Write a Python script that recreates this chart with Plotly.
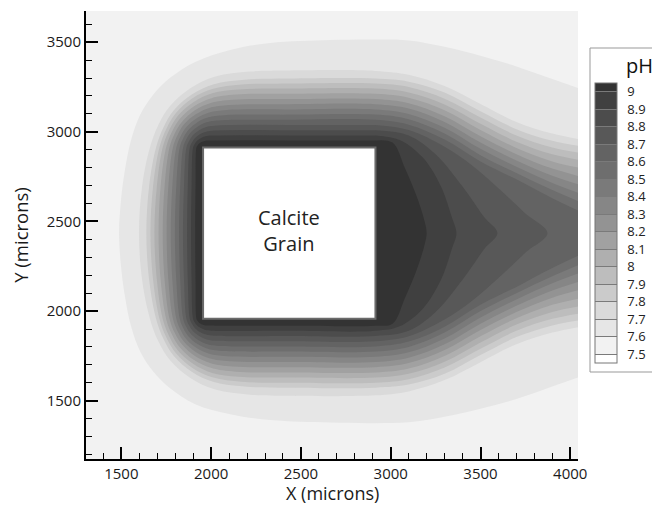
import plotly.graph_objects as go

# ---- pH contour lines: (x, y) in microns, one closed outline per level ----
ph_7_6 = [(4100, 3225), (3900, 3295), (3700, 3365), (3500, 3425), (3300, 3475), (3100, 3510), (2915, 3515),
          (2663, 3512), (2329, 3496), (2106, 3457), (1911, 3390), (1771, 3301), (1676, 3206), (1604, 3094),
          (1554, 2955), (1520, 2788), (1498, 2620), (1487, 2435), (1498, 2250), (1520, 2082), (1554, 1915),
          (1604, 1776), (1676, 1664), (1771, 1569), (1911, 1480), (2106, 1425), (2329, 1392), (2663, 1378),
          (2915, 1375), (3100, 1380), (3300, 1410), (3500, 1455), (3700, 1510), (3900, 1580), (4100, 1650)]
ph_7_7 = [(4100, 2950), (3900, 2990), (3700, 3055), (3500, 3155), (3300, 3255), (3100, 3318), (2915, 3340),
          (2435, 3342), (2216, 3336), (2023, 3308), (1884, 3243), (1771, 3144), (1705, 3037), (1659, 2912),
          (1616, 2700), (1598, 2435), (1616, 2170), (1659, 1958), (1705, 1833), (1771, 1726), (1884, 1627),
          (2023, 1562), (2216, 1534), (2435, 1528), (2915, 1530), (3100, 1552), (3300, 1615), (3500, 1715),
          (3700, 1815), (3900, 1880), (4100, 1920)]
ph_7_8 = [(4100, 2913), (3900, 2950), (3700, 3015), (3500, 3115), (3300, 3220), (3100, 3280), (2915, 3297),
          (2435, 3297), (2186, 3291), (2015, 3266), (1892, 3208), (1792, 3120), (1734, 3024), (1693, 2912),
          (1655, 2700), (1639, 2435), (1655, 2170), (1693, 1958), (1734, 1846), (1792, 1750), (1892, 1662),
          (2015, 1604), (2186, 1579), (2435, 1573), (2915, 1573), (3100, 1590), (3300, 1650), (3500, 1755),
          (3700, 1855), (3900, 1920), (4100, 1957)]
ph_7_9 = [(4100, 2875), (3900, 2913), (3700, 2980), (3500, 3080), (3300, 3185), (3100, 3250), (2915, 3269),
          (2435, 3269), (2169, 3264), (2011, 3240), (1896, 3187), (1804, 3105), (1750, 3016), (1712, 2912),
          (1677, 2700), (1662, 2435), (1677, 2170), (1712, 1958), (1750, 1854), (1804, 1765), (1896, 1683),
          (2011, 1630), (2169, 1606), (2435, 1601), (2915, 1601), (3100, 1620), (3300, 1685), (3500, 1790),
          (3700, 1890), (3900, 1957), (4100, 1995)]
ph_8_0 = [(4100, 2835), (3900, 2875), (3700, 2945), (3500, 3045), (3300, 3153), (3100, 3220), (2915, 3241),
          (2435, 3241), (2153, 3236), (2006, 3215), (1901, 3165), (1815, 3090), (1765, 3007), (1730, 2912),
          (1698, 2700), (1684, 2435), (1698, 2170), (1730, 1958), (1765, 1863), (1815, 1780), (1901, 1705),
          (2006, 1655), (2153, 1634), (2435, 1629), (2915, 1629), (3100, 1650), (3300, 1717), (3500, 1825),
          (3700, 1925), (3900, 1995), (4100, 2035)]
ph_8_1 = [(4100, 2790), (3900, 2835), (3700, 2910), (3500, 3010), (3300, 3120), (3100, 3190), (2915, 3212),
          (2435, 3212), (2136, 3208), (2002, 3188), (1905, 3143), (1827, 3074), (1781, 2999), (1749, 2912),
          (1719, 2700), (1707, 2435), (1719, 2170), (1749, 1958), (1781, 1871), (1827, 1796), (1905, 1727),
          (2002, 1682), (2136, 1662), (2435, 1658), (2915, 1658), (3100, 1680), (3300, 1750), (3500, 1860),
          (3700, 1960), (3900, 2035), (4100, 2080)]
ph_8_2 = [(4100, 2740), (3900, 2795), (3700, 2875), (3500, 2975), (3300, 3087), (3100, 3160), (2915, 3183),
          (2435, 3183), (2119, 3179), (1998, 3161), (1910, 3121), (1839, 3058), (1797, 2991), (1768, 2912),
          (1741, 2700), (1730, 2435), (1741, 2170), (1768, 1958), (1797, 1879), (1839, 1812), (1910, 1749),
          (1998, 1709), (2119, 1691), (2435, 1687), (2915, 1687), (3100, 1710), (3300, 1783), (3500, 1895),
          (3700, 1995), (3900, 2075), (4100, 2130)]
ph_8_3 = [(4100, 2690), (3900, 2755), (3700, 2840), (3500, 2940), (3300, 3055), (3100, 3130), (2915, 3154),
          (2435, 3154), (2103, 3150), (1994, 3135), (1914, 3098), (1850, 3043), (1813, 2982), (1787, 2912),
          (1762, 2700), (1752, 2435), (1762, 2170), (1787, 1958), (1813, 1888), (1850, 1827), (1914, 1772),
          (1994, 1735), (2103, 1720), (2435, 1716), (2915, 1716), (3100, 1740), (3300, 1815), (3500, 1930),
          (3700, 2030), (3900, 2115), (4100, 2180)]
ph_8_4 = [(4100, 2640), (3900, 2715), (3700, 2805), (3500, 2905), (3300, 3023), (3100, 3100), (2915, 3125),
          (2435, 3125), (2086, 3122), (1989, 3108), (1919, 3076), (1862, 3027), (1829, 2974), (1806, 2912),
          (1784, 2700), (1775, 2435), (1784, 2170), (1806, 1958), (1829, 1896), (1862, 1843), (1919, 1794),
          (1989, 1762), (2086, 1748), (2435, 1745), (2915, 1745), (3100, 1770), (3300, 1847), (3500, 1965),
          (3700, 2065), (3900, 2155), (4100, 2230)]
ph_8_5 = [(4100, 2590), (3900, 2675), (3700, 2770), (3500, 2870), (3300, 2990), (3100, 3070), (2915, 3096),
          (2435, 3096), (2070, 3093), (1985, 3081), (1924, 3054), (1874, 3011), (1845, 2965), (1825, 2912),
          (1806, 2700), (1798, 2435), (1806, 2170), (1825, 1958), (1845, 1905), (1874, 1859), (1924, 1816),
          (1985, 1789), (2070, 1777), (2435, 1774), (2915, 1774), (3100, 1800), (3300, 1880), (3500, 2000),
          (3700, 2100), (3900, 2195), (4100, 2280)]
ph_8_6 = [(4100, 2535), (3900, 2630), (3700, 2735), (3500, 2835), (3300, 2957), (3100, 3040), (2915, 3067),
          (2435, 3067), (2053, 3065), (1980, 3055), (1928, 3031), (1886, 2996), (1861, 2957), (1844, 2912),
          (1828, 2700), (1821, 2435), (1828, 2170), (1844, 1958), (1861, 1913), (1886, 1874), (1928, 1839),
          (1980, 1815), (2053, 1805), (2435, 1803), (2915, 1803), (3100, 1830), (3300, 1913), (3500, 2035),
          (3700, 2135), (3900, 2240), (4100, 2335)]
ph_8_7 = [(2435, 3038), (2037, 3036), (1976, 3028), (1933, 3009), (1897, 2980), (1877, 2949), (1862, 2912),
          (1849, 2700), (1843, 2435), (1849, 2170), (1862, 1958), (1877, 1921), (1897, 1890), (1933, 1861),
          (1976, 1842), (2037, 1834), (2435, 1832), (2915, 1832), (3100, 1860), (3300, 1953), (3450, 2055),
          (3600, 2185), (3750, 2325), (3873, 2435), (3750, 2545), (3600, 2685), (3450, 2815), (3300, 2917),
          (3100, 3010), (2915, 3038)]
ph_8_8 = [(2435, 3009), (2020, 3008), (1972, 3001), (1937, 2987), (1909, 2964), (1893, 2940), (1881, 2912),
          (1870, 2700), (1866, 2435), (1870, 2170), (1881, 1958), (1893, 1930), (1909, 1906), (1937, 1883),
          (1972, 1869), (2020, 1862), (2435, 1861), (2915, 1861), (3100, 1890), (3250, 1995), (3400, 2175),
          (3520, 2345), (3594, 2435), (3520, 2525), (3400, 2695), (3250, 2875), (3100, 2980), (2915, 3009)]
ph_8_9 = [(2435, 2980), (2004, 2979), (1968, 2975), (1942, 2964), (1920, 2949), (1908, 2932), (1899, 2912),
          (1891, 2700), (1888, 2435), (1891, 2170), (1899, 1958), (1908, 1938), (1920, 1921), (1942, 1906),
          (1968, 1895), (2004, 1891), (2435, 1890), (2915, 1890), (3050, 1915), (3180, 2015), (3280, 2175),
          (3340, 2345), (3366, 2435), (3340, 2525), (3280, 2695), (3180, 2855), (3050, 2955), (2915, 2980)]
ph_9_0 = [(2435, 2952), (1987, 2951), (1963, 2949), (1946, 2943), (1932, 2934), (1924, 2924), (1918, 2912),
          (1913, 2700), (1911, 2435), (1913, 2170), (1918, 1958), (1924, 1946), (1932, 1936), (1946, 1927),
          (1963, 1921), (1987, 1919), (2435, 1918), (2915, 1918), (3010, 1930), (3080, 2075), (3150, 2245),
          (3190, 2375), (3200, 2435), (3190, 2495), (3150, 2625), (3080, 2795), (3010, 2940), (2915, 2952)]

contour_lines = [ph_7_6, ph_7_7, ph_7_8, ph_7_9, ph_8_0, ph_8_1, ph_8_2, ph_8_3,
                 ph_8_4, ph_8_5, ph_8_6, ph_8_7, ph_8_8, ph_8_9, ph_9_0]

# legend levels and labels
level_vals = [7.5, 7.6, 7.7, 7.8, 7.9, 8.0, 8.1, 8.2, 8.3, 8.4, 8.5, 8.6, 8.7, 8.8, 8.9, 9.0]
level_text = ["7.5", "7.6", "7.7", "7.8", "7.9", "8", "8.1", "8.2", "8.3", "8.4", "8.5", "8.6", "8.7", "8.8", "8.9", "9"]

# band greys: below 7.5, 7.5-7.6, ..., 8.9-9.0, above 9
band_greys = ["#ffffff", "#f2f2f2", "#e6e6e6", "#dadada", "#cbcbcb", "#bdbdbd", "#afafaf", "#a1a1a1",
              "#939393", "#868686", "#7a7a7a", "#6e6e6e", "#636363", "#585858", "#4c4c4c", "#404040", "#333333"]

# grain outline (microns)
grain_x = [1955, 2915]
grain_y = [1958, 2912]
grain_label = "Calcite<br>Grain"

x_title = "X (microns)"
y_title = "Y (microns)"

x_range = [1303, 4043]
y_range = [1175, 3674]

# the page body keeps an 8px margin, so the figure is 8px smaller and its margins shifted
W, H = 652, 497
ml, mr, mt, mb = 78, 82, 3, 46
pw = W - ml - mr
ph = H - mt - mb
off = 8

def px_x(p):
    return (p - off - ml) / pw

def px_y(p):
    return 1 - (p - off - mt) / ph

font_family = "Open Sans, Noto Sans, sans-serif"
nbsp = "\u00a0"

fig = go.Figure()

# filled region above each level, from the outermost level inwards
for i, pts in enumerate(contour_lines):
    fig.add_trace(go.Scatter(
        x=[p[0] for p in pts], y=[p[1] for p in pts],
        mode="lines", fill="toself", fillcolor=band_greys[i + 2],
        line=dict(width=0, shape="spline", smoothing=1.0, color=band_greys[i + 2]),
        hoverinfo="skip", showlegend=False,
    ))

# stepped colour scale for the legend bar (7.45 .. 9.05)
cmin, cmax = 7.45, 9.05
span = cmax - cmin
edges = [cmin] + level_vals + [cmax]
legend_scale = []
for k, c in enumerate(band_greys):
    legend_scale.append([(edges[k] - cmin) / span, c])
    legend_scale.append([(edges[k + 1] - cmin) / span, c])

fig.add_trace(go.Scatter(
    x=[None], y=[None], mode="markers", hoverinfo="skip", showlegend=False,
    marker=dict(
        color=[8.0], colorscale=legend_scale, cmin=cmin, cmax=cmax, showscale=True,
        colorbar=dict(
            x=px_x(590), xanchor="left", xpad=5,
            y=px_y(83), yanchor="top", ypad=0,
            len=280, lenmode="pixels",
            thickness=22, thicknessmode="pixels",
            tickvals=level_vals, ticktext=[nbsp * 2 + t for t in level_text],
            ticks="inside", ticklen=22, tickwidth=1, tickcolor="#7a7a7a",
            tickfont=dict(family=font_family, size=13, color="#222"),
            outlinewidth=1, outlinecolor="#777",
            borderwidth=0, bgcolor="rgba(0,0,0,0)",
        ),
    ),
))

fig.add_shape(type="rect", xref="x", yref="y",
              x0=grain_x[0], x1=grain_x[1], y0=grain_y[0], y1=grain_y[1],
              fillcolor="white", line=dict(color="#6a6a6a", width=2), layer="above")

fig.add_annotation(x=(grain_x[0] + grain_x[1]) / 2, y=2450, xref="x", yref="y",
                   text=grain_label, showarrow=False,
                   font=dict(family=font_family, size=20, color="#222"))

# legend frame and title
fig.add_shape(type="rect", xref="paper", yref="paper",
              x0=px_x(590), x1=px_x(655), y0=px_y(372), y1=px_y(48),
              line=dict(color="#999", width=1), fillcolor="rgba(0,0,0,0)")
fig.add_annotation(x=px_x(655), y=px_y(65), xref="paper", yref="paper",
                   xanchor="right", yanchor="middle", text="pH", showarrow=False,
                   font=dict(family=font_family, size=20, color="#111"))

# x axis title placed just under the tick labels
fig.add_annotation(x=0.5, y=px_y(493), xref="paper", yref="paper",
                   xanchor="center", yanchor="middle", text=x_title, showarrow=False,
                   font=dict(family=font_family, size=18, color="#1a1a1a"))

axis_common = dict(
    showline=True, linewidth=2, linecolor="black", mirror=False,
    ticks="inside", ticklen=12, tickwidth=2, tickcolor="black",
    dtick=500, showgrid=False, zeroline=False,
    tickfont=dict(family=font_family, size=15, color="#1a1a1a"),
    minor=dict(ticks="inside", ticklen=6, tickwidth=1, tickcolor="black", dtick=100, showgrid=False),
)

fig.update_xaxes(range=x_range, tick0=0, **axis_common)
fig.update_yaxes(range=y_range, tick0=0, title=dict(text=y_title, standoff=15,
                 font=dict(family=font_family, size=18.5, color="#1a1a1a")), **axis_common)

fig.update_layout(
    width=W, height=H,
    margin=dict(l=ml, r=mr, t=mt, b=mb, autoexpand=False),
    paper_bgcolor="white", plot_bgcolor="#f2f2f2",
    showlegend=False,
)

fig.write_html("out.html")
